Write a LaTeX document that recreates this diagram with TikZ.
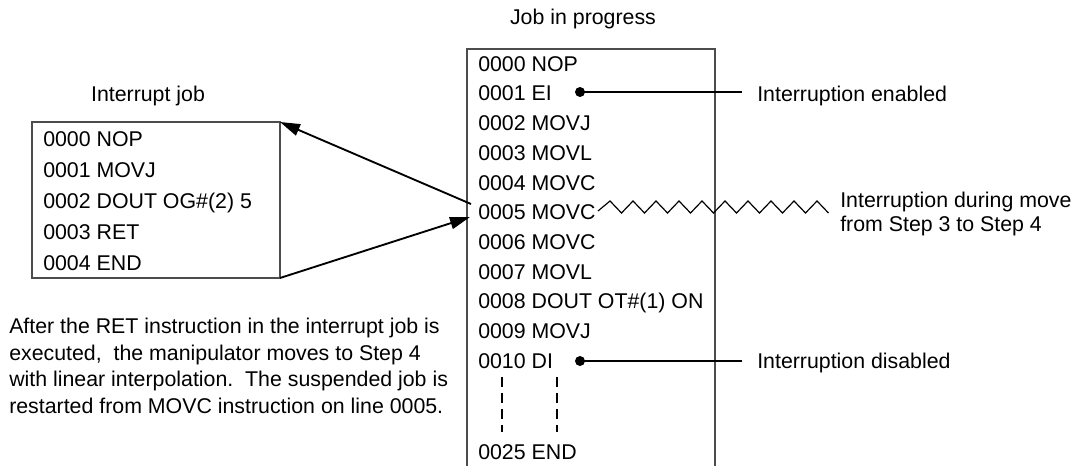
\documentclass[tikz,border=0pt]{standalone}
\usepackage{fontspec}
\setmainfont{Liberation Sans}
\usetikzlibrary{arrows.meta}
\begin{document}
\begin{tikzpicture}[x=0.75pt,y=-0.75pt,
  txt/.style={font=\fontsize{16pt}{19pt}\selectfont, inner sep=0pt, anchor=base west},
  frame/.style={draw=black!70, line width=0.9pt},
  arr/.style={line width=1.4pt, -{Triangle[length=15pt,width=9pt]}},
  pin/.style={line width=0.9pt},
  dot/.style={circle, fill=black, inner sep=0pt, minimum size=7.5pt},
  ]
\useasboundingbox (0,0) rectangle (1077,466);

% ---- interrupt job listing ----
\node[txt, anchor=base] (ititle) at (148,102) {Interrupt job};
\coordinate (ibNW) at (32,122);
\coordinate (ibNE) at (280,122);
\coordinate (ibSE) at (280,278);
\draw[frame] (ibNW) rectangle (ibSE);
\node[txt] (i0) at (43,147) {0000 NOP};
\node[txt] (i1) at (43,178) {0001 MOVJ};
\node[txt] (i2) at (43,209) {0002 DOUT OG\#(2) 5};
\node[txt] (i3) at (43,240) {0003 RET};
\node[txt] (i4) at (43,271) {0004 END};

% ---- job in progress listing (open at the bottom) ----
\node[txt, anchor=base] (jtitle) at (583,25) {Job in progress};
\coordinate (jbBL) at (467,466);
\coordinate (jbTL) at (467,49);
\coordinate (jbTR) at (715,49);
\coordinate (jbBR) at (715,466);
\draw[frame] (jbBL) -- (jbTL) -- (jbTR) -- (jbBR);
\node[txt] (j0)  at (478,71.3)  {0000 NOP};
\node[txt] (j1)  at (478,101.0) {0001 EI};
\node[txt] (j2)  at (478,130.7) {0002 MOVJ};
\node[txt] (j3)  at (478,160.4) {0003 MOVL};
\node[txt] (j4)  at (478,190.1) {0004 MOVC};
\node[txt] (j5)  at (478,219.8) {0005 MOVC};
\node[txt] (j6)  at (478,249.5) {0006 MOVC};
\node[txt] (j7)  at (478,279.2) {0007 MOVL};
\node[txt] (j8)  at (478,308.9) {0008 DOUT OT\#(1) ON};
\node[txt] (j9)  at (478,338.6) {0009 MOVJ};
\node[txt] (j10) at (478,368.3) {0010 DI};
\node[txt] (j25) at (478,459)   {0025 END};

% omitted lines
\coordinate (omA1) at (502,377); \coordinate (omA2) at (502,432);
\coordinate (omB1) at (557,377); \coordinate (omB2) at (557,432);
\draw[pin, dash pattern=on 7.5pt off 4.5pt] (omA1) -- (omA2);
\draw[pin, dash pattern=on 7.5pt off 4.5pt] (omB1) -- (omB2);

% ---- jump to the interrupt job and return ----
\coordinate (callOut) at (471,204);
\coordinate (retIn) at (470,217);
\draw[arr] (callOut) -- (ibNE);
\draw[arr] (ibSE) -- (retIn);

% ---- annotations ----
\node[dot] (eiDot) at (580,92) {};
\coordinate (eiEnd) at (742,92);
\draw[pin] (eiDot.center) -- (eiEnd);
\node[txt] (eiLabel) at (757,102) {Interruption enabled};

\node[dot] (diDot) at (580,361) {};
\coordinate (diEnd) at (742,361);
\draw[pin] (diDot.center) -- (diEnd);
\node[txt] (diLabel) at (757,368.5) {Interruption disabled};

% interruption marker on line 0005
\coordinate (zzStart) at (598,211);
\draw[pin, line join=miter] (zzStart)
  \foreach \k in {0,...,9} { -- ({610+23*\k},201) -- ({621.5+23*\k},213) };
\node[txt] (zzLabelA) at (840,207.5) {Interruption during move};
\node[txt] (zzLabelB) at (840,231.7) {from Step 3 to Step 4};

% ---- explanation ----
\node[txt] (p1) at (9,334) {After the RET instruction in the interrupt job is};
\node[txt] (p2) at (9,360.3) {executed,\ \ the manipulator moves to Step 4};
\node[txt] (p3) at (9,386.6) {with linear interpolation.\ \ The suspended job is};
\node[txt] (p4) at (9,413) {restarted from MOVC instruction on line 0005.};
\end{tikzpicture}
\end{document}
